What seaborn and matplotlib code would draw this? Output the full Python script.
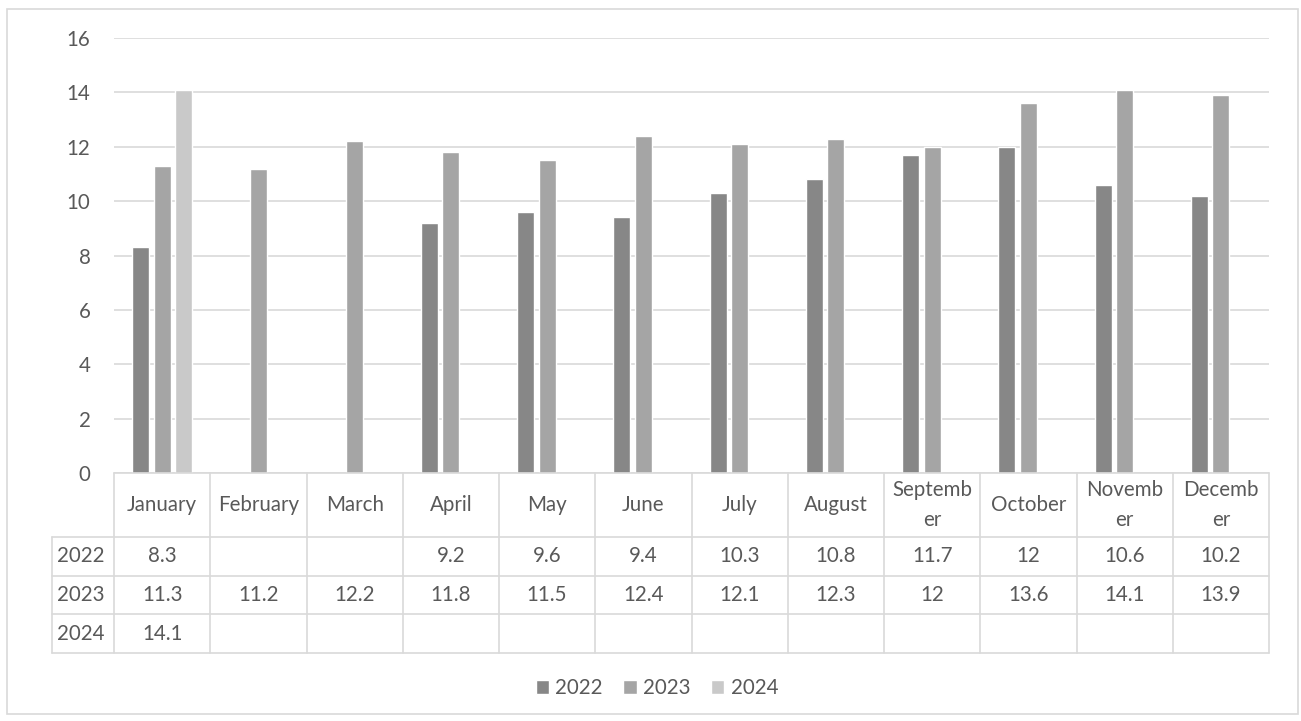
import numpy as np
import pandas as pd
import matplotlib.pyplot as plt
import seaborn as sns

# Data
months = ['January', 'February', 'March', 'April', 'May', 'June', 'July',
          'August', 'September', 'October', 'November', 'December']
month_labels = ['January', 'February', 'March', 'April', 'May', 'June', 'July',
                'August', 'Septemb\ner', 'October', 'Novemb\ner', 'Decemb\ner']
years = ['2022', '2023', '2024']
v2022 = [8.3, np.nan, np.nan, 9.2, 9.6, 9.4, 10.3, 10.8, 11.7, 12, 10.6, 10.2]
v2023 = [11.3, 11.2, 12.2, 11.8, 11.5, 12.4, 12.1, 12.3, 12, 13.6, 14.1, 13.9]
v2024 = [14.1] + [np.nan] * 11
colors = ['#878787', '#a5a5a5', '#c9c9c9']

df = pd.DataFrame({'month': months * 3,
                   'year': np.repeat(years, 12),
                   'value': v2022 + v2023 + v2024})

sns.set_style('white')
plt.rcParams['font.family'] = ['Lato', 'DejaVu Sans']
txt = '#595959'
grid = '#d9d9d9'
fs = 14.8

W, H = 1301, 721
fig = plt.figure(figsize=(W / 100, H / 100), dpi=100)

def box(x0, y0, x1, y1):
    return [x0 / W, 1 - y1 / H, (x1 - x0) / W, (y1 - y0) / H]

# graf
ax = fig.add_axes(box(114, 38, 1269, 473))
sns.barplot(data=df, x='month', y='value', hue='year', order=months,
            hue_order=years, palette=colors, width=0.67, gap=0.2,
            saturation=1, ax=ax, legend=True)
ax.set_ylim(0, 16)
ax.set_xlim(-0.5, 11.5)
ax.set_yticks(range(0, 17, 2))
ax.yaxis.grid(True, color=grid, linewidth=1.2)
ax.set_axisbelow(True)
ax.tick_params(axis='y', length=0, pad=17, labelsize=fs, labelcolor=txt)
ax.set_xticks([])
ax.set_xlabel('')
ax.set_ylabel('')
sns.despine(ax=ax, left=True, bottom=True, top=True, right=True)
handles, labels = ax.get_legend_handles_labels()
ax.get_legend().remove()

# tabulka s datami
col_w = 1155 / 12
left_units = (114 - 52) / col_w
tab = fig.add_axes(box(52, 473, 1269, 653))
tab.set_xlim(-0.5 - left_units, 11.5)
tab.set_ylim(653, 473)
tab.axis('off')
xl = -0.5 - left_units
row_y = [473, 537, 576, 614, 653]
for i in range(13):
    tab.plot([i - 0.5, i - 0.5], [473, 653], color=grid, lw=1.2, clip_on=False)
tab.plot([xl, xl], [537, 653], color=grid, lw=1.2, clip_on=False)
tab.plot([-0.5, 11.5], [473, 473], color=grid, lw=1.2, clip_on=False)
for y in row_y[1:]:
    tab.plot([xl, 11.5], [y, y], color=grid, lw=1.2, clip_on=False)
for i, lab in enumerate(month_labels):
    tab.text(i, 505, lab, ha='center', va='center', fontsize=fs,
             color=txt, linespacing=1.6)
for r, (yr, vals) in enumerate(zip(years, [v2022, v2023, v2024])):
    yc = (row_y[r + 1] + row_y[r + 2]) / 2
    tab.text(xl + 5 / col_w, yc, yr, ha='left', va='center', fontsize=fs,
             color=txt)
    for i, v in enumerate(vals):
        if not np.isnan(v):
            tab.text(i, yc, f'{v:g}', ha='center', va='center', fontsize=fs,
                     color=txt)

fig.legend(handles, labels, loc='center', bbox_to_anchor=(657 / W, 1 - 688 / H),
           ncol=3, frameon=False, fontsize=fs, labelcolor=txt,
           handlelength=0.65, handleheight=0.65, handletextpad=0.3,
           columnspacing=1.0)

fig.patches.append(plt.Rectangle((7 / W, 7 / H), (1298 - 7) / W, (714 - 9) / H,
                                 transform=fig.transFigure, fill=False,
                                 edgecolor=grid, linewidth=1.2))

plt.savefig('out.png', dpi=100)
